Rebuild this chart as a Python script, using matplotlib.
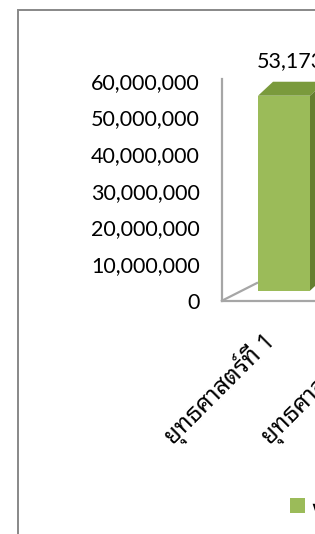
import matplotlib
matplotlib.use("Agg")
import matplotlib.pyplot as plt
from matplotlib import font_manager
from matplotlib.patches import Polygon, Rectangle
from matplotlib.lines import Line2D
import matplotlib.transforms as mtransforms

# data
categories = ["ยุทธศาสตร์ที่ 1", "ยุทธศาสตร์ที่ 2"]
values = [53173000, 21500000]
series_name = "งบประมาณ"
yticks = [0, 10000000, 20000000, 30000000, 40000000, 50000000, 60000000]

# pick a font that has Thai glyphs (looped styles first)
names = {f.name for f in font_manager.fontManager.ttflist}
thai_font = "DejaVu Sans"
for cand in ["Noto Sans Thai Looped", "Sarabun", "Thasadith", "Niramit", "Krub",
             "KoHo", "Kodchasan", "Noto Sans Thai", "Tahoma", "Anuphan", "Bai Jamjuree"]:
    if cand in names:
        thai_font = cand
        break
num_font = "Lato"

W, H, DPI = 315, 534, 100
fig = plt.figure(figsize=(W / DPI, H / DPI), dpi=DPI)
renderer = fig.canvas.get_renderer()

def fx(px):
    return px / W

def fy(py):  # py measured from the top
    return 1 - py / H

# size the Thai text so a category label is about 146 px long
probe = fig.text(0, 0, categories[0], fontfamily=thai_font, fontsize=12)
thai_size = 12 * 146 / probe.get_window_extent(renderer).width
probe.remove()

# outer chart border (cropped on the right and bottom)
fig.patches.append(Rectangle((fx(18), fy(700)), 2.0, fy(10) - fy(700),
                             transform=fig.transFigure, fill=False,
                             edgecolor="#888888", linewidth=1.4))

# axes: x0 at 222px, zero at y=300.7, 60M at y=80.7, one category = 97px
ax_left, ax_w = 222, 400
y0, y60 = 300.7, 80.7
ymax = 62000000
top_px = y0 - (y0 - y60) * ymax / 60000000
ax = fig.add_axes([fx(ax_left), fy(y0), fx(ax_w), fy(top_px) - fy(y0)])
ax.patch.set_alpha(0)
unit = 97.0
xmin = -(284 - ax_left) / unit
ax.set_xlim(xmin, xmin + ax_w / unit)
ax.set_ylim(0, ymax)

for s in ["top", "right"]:
    ax.spines[s].set_visible(False)
for s in ["left", "bottom"]:
    ax.spines[s].set_color("#a6a6a6")
    ax.spines[s].set_linewidth(1.6)
ax.spines["left"].set_bounds(0, 60500000)

ax.set_yticks(yticks)
ax.set_yticklabels([f"{v:,}" for v in yticks], fontfamily=num_font, fontsize=15.5)
ax.tick_params(axis="y", length=0, pad=16)

xs = list(range(len(categories)))
ax.set_xticks(xs)
ax.set_xticklabels(categories, rotation=45, ha="right", va="center",
                   rotation_mode="anchor", fontfamily=thai_font, fontsize=thai_size)
ax.tick_params(axis="x", length=0, pad=26)
nudge = mtransforms.ScaledTranslation(-0.12, 0, fig.dpi_scale_trans)
for lab in ax.get_xticklabels():
    lab.set_transform(lab.get_transform() + nudge)

# floor diagonal
fig.lines.append(Line2D([fx(222), fx(257)], [fy(300.7), fy(283)],
                        transform=fig.transFigure, color="#a6a6a6", linewidth=1.6))

# bars with a fake 3D look
shift = mtransforms.ScaledTranslation(0, 10 / 100, fig.dpi_scale_trans)
bw = 52 / unit
bars = ax.bar(xs, values, width=bw, color="#9bbb59", zorder=3,
              transform=ax.transData + shift, label=series_name)
fig.canvas.draw()
dx, dy = 15, 14
for b in bars:
    x0d, x1d = b.get_x(), b.get_x() + b.get_width()
    hd = b.get_height()
    (ax0, ay0), (ax1, ay1) = (ax.transData + shift).transform([(x0d, 0), (x1d, hd)])
    top = Polygon([(ax0, ay1), (ax1, ay1), (ax1 + dx, ay1 + dy), (ax0 + dx, ay1 + dy)],
                  closed=True, transform=None, facecolor="#7a9a3c", edgecolor="none", zorder=4)
    side = Polygon([(ax1, ay0), (ax1 + dx, ay0 + dy), (ax1 + dx, ay1 + dy), (ax1, ay1)],
                   closed=True, transform=None, facecolor="#657f30", edgecolor="none", zorder=4)
    ax.add_artist(top)
    ax.add_artist(side)
    ax.annotate(f"{hd:,.0f}", (x0d, hd), xytext=(-1, 32), textcoords="offset points",
                ha="left", va="center", fontfamily=num_font, fontsize=15.5)

leg = fig.legend(handles=[bars], labels=[series_name], loc="center left",
                 bbox_to_anchor=(fx(290), fy(508)), frameon=False,
                 prop={"family": thai_font, "size": thai_size}, handlelength=0.62,
                 handleheight=0.62, handletextpad=0.25, borderpad=0, borderaxespad=0)

fig.savefig("out.png", dpi=DPI)
